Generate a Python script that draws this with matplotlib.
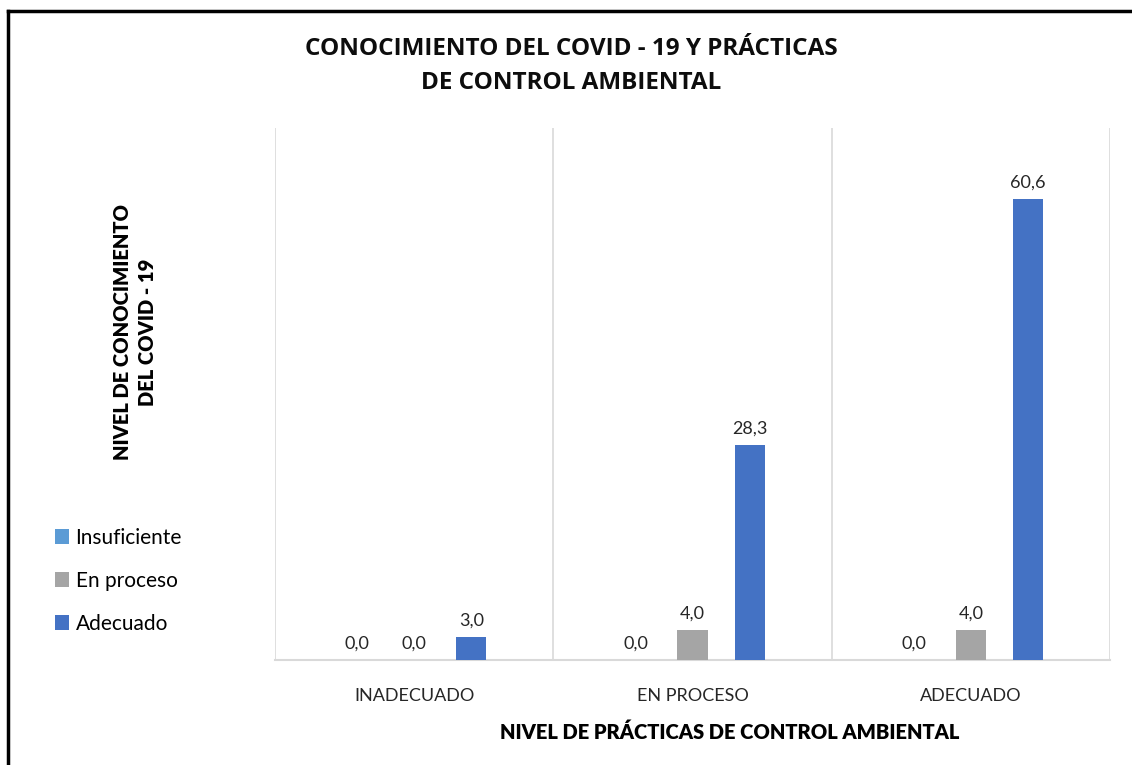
import numpy as np
from matplotlib import pyplot as plt
from matplotlib.lines import Line2D

plt.rcParams['font.family'] = ['Lato', 'DejaVu Sans']

# data
categorias = ['INADECUADO', 'EN PROCESO', 'ADECUADO']
series = ['Insuficiente', 'En proceso', 'Adecuado']
insuficiente = [0.0, 0.0, 0.0]
en_proceso = [0.0, 4.0, 4.0]
adecuado = [3.0, 28.3, 60.6]
colores = ['#5B9BD5', '#A5A5A5', '#4472C4']

fig = plt.figure(figsize=(11.32, 7.65), dpi=100)
ax = fig.add_axes([275 / 1132, 1 - 660 / 765, 835 / 1132, 532 / 765])

x = np.arange(len(categorias))
ancho = 0.108
desp = 0.205
for i, (vals, nombre, col) in enumerate(zip([insuficiente, en_proceso, adecuado], series, colores)):
    pos = x + (i - 1) * desp
    barras = ax.bar(pos, vals, ancho, color=col, label=nombre, zorder=3)
    for b, v in zip(barras, vals):
        ax.annotate(f'{v:.1f}'.replace('.', ','), (b.get_x() + b.get_width() / 2, v),
                    xytext=(0, 6), textcoords='offset points', ha='center', va='bottom',
                    fontsize=13, color='#262626')

ax.set_xlim(-0.5, len(categorias) - 0.5)
ax.set_ylim(0, 70)
ax.set_yticks([])
ax.set_xticks(x)
ax.set_xticklabels(categorias, fontsize=13, color='#262626')
ax.tick_params(axis='x', length=0, pad=20)
ax.set_xticks(np.arange(len(categorias) + 1) - 0.5, minor=True)
ax.tick_params(axis='x', which='minor', length=0)
ax.grid(axis='x', which='minor', color='#d9d9d9', linewidth=1.2)
for s in ['top', 'left', 'right']:
    ax.spines[s].set_visible(False)
ax.spines['bottom'].set_color('#d9d9d9')
ax.spines['bottom'].set_linewidth(1.5)

fig.text(571 / 1132, 1 - 66 / 765, 'CONOCIMIENTO DEL COVID - 19 Y PRÁCTICAS\nDE CONTROL AMBIENTAL',
         ha='center', va='center', fontsize=17.5, fontweight='bold', linespacing=1.55,
         color='#0d0d0d', family=['Open Sans', 'DejaVu Sans'])
fig.text(730 / 1132, 1 - 732 / 765, 'NIVEL DE PRÁCTICAS DE CONTROL AMBIENTAL',
         ha='center', va='center', fontsize=14.5, fontweight='heavy')
fig.text(135 / 1132, 1 - 332 / 765, 'NIVEL DE CONOCIMIENTO\nDEL COVID - 19',
         ha='center', va='center', rotation=90, fontsize=14.5, fontweight='heavy',
         multialignment='center', linespacing=1.4)

fig.legend(loc='center left', bbox_to_anchor=(36 / 1132, 1 - 581 / 765), frameon=False,
           fontsize=15, labelspacing=1.1, handlelength=0.7, handleheight=0.7, handletextpad=0.3)

# marco de la figura (arriba e izquierda)
fig.add_artist(Line2D([8 / 1132, 1], [1 - 11 / 765, 1 - 11 / 765], color='black', linewidth=2.5,
                      transform=fig.transFigure))
fig.add_artist(Line2D([8 / 1132, 8 / 1132], [0, 1 - 11 / 765], color='black', linewidth=2.5,
                      transform=fig.transFigure))

fig.savefig('out.png', dpi=100)
